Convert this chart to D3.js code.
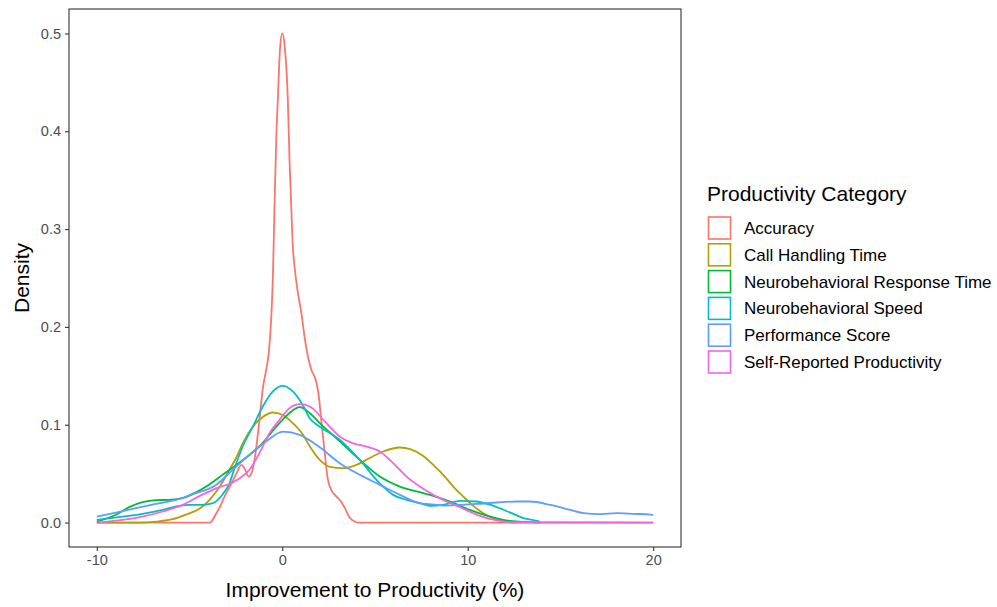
<!DOCTYPE html>
<html>
<head>
<meta charset="utf-8">
<script src="https://cdn.jsdelivr.net/npm/d3@7"></script>
<style>
  body { margin: 0; background: #fff; }
  text { font-family: "Liberation Sans", Arial, sans-serif; }
</style>
</head>
<body>
<svg id="chart" width="997" height="607"></svg>
<script>
// category names and colours (ggplot hue palette)
var categories = ["Accuracy", "Call Handling Time", "Neurobehavioral Response Time",
    "Neurobehavioral Speed", "Performance Score", "Self-Reported Productivity"];
var colors = ["#F8766D", "#B79F00", "#00BA38", "#00BFC4", "#619CFF", "#F564E3"];

var xTicks = [-10, 0, 10, 20];
var yTicks = [0, 0.1, 0.2, 0.3, 0.4, 0.5];

// density curves: [improvement %, density]
var accuracy = [[-10,0],[-3.9,0],[-3.6,0.008],[-3.39,0.015],[-3.1,0.027],[-2.85,0.036],[-2.5,0.049],
    [-2.2,0.059],[-2.0,0.054],[-1.82,0.047],[-1.62,0.053],[-1.42,0.074],[-1.23,0.105],[-1.05,0.137],
    [-0.85,0.158],[-0.72,0.175],[-0.6,0.207],[-0.5,0.255],[-0.42,0.323],[-0.32,0.395],[-0.24,0.432],
    [-0.12,0.485],[0,0.5],[0.14,0.485],[0.3,0.432],[0.39,0.371],[0.49,0.32],[0.57,0.282],[0.66,0.262],
    [0.84,0.235],[1.03,0.214],[1.2,0.19],[1.38,0.17],[1.57,0.156],[1.8,0.146],[1.95,0.132],[2.1,0.105],
    [2.28,0.073],[2.45,0.045],[2.65,0.033],[2.9,0.027],[3.15,0.022],[3.37,0.015],[3.6,0.006],[3.9,0.001],
    [4.1,0],[20,0]];

var callHandling = [[-10,0],[-7.7,0],[-6.8,0.001],[-5.9,0.0034],[-5.2,0.008],[-4.47,0.014],[-3.93,0.023],
    [-3.39,0.036],[-2.85,0.054],[-2.49,0.066],[-2.13,0.081],[-1.59,0.098],[-1.05,0.108],[-0.51,0.1125],
    [0.03,0.11],[0.57,0.1016],[1.11,0.09],[1.48,0.078],[2.02,0.064],[2.56,0.057],[3.28,0.0556],[4.0,0.059],
    [4.72,0.066],[5.44,0.0726],[6.34,0.0767],[6.9,0.075],[7.6,0.068],[8.14,0.059],[8.68,0.0488],
    [9.22,0.0368],[9.76,0.0266],[10.3,0.0171],[10.84,0.0096],[11.38,0.0045],[12.1,0.001],[12.6,0]];

var neuroResponse = [[-10,0.001],[-8.97,0.008],[-8.25,0.0157],[-7.54,0.0208],[-6.81,0.0229],[-6.09,0.0232],
    [-5.37,0.025],[-4.65,0.031],[-3.93,0.039],[-3.21,0.049],[-2.4,0.06],[-1.23,0.078],[-0.15,0.1016],
    [0.39,0.112],[0.94,0.118],[1.48,0.112],[2.02,0.1016],[3.1,0.083],[4.18,0.064],[5.26,0.047],
    [6.34,0.0368],[7.42,0.031],[7.96,0.0283],[9.04,0.0215],[10.12,0.013],[11.2,0.0061],[12.29,0.0017],
    [13.9,0]];

var neuroSpeed = [[-10,0.0027],[-8.61,0.0061],[-7.54,0.0089],[-6.45,0.013],[-5.55,0.0171],[-5.0,0.0181],
    [-4.29,0.0181],[-3.75,0.0198],[-3.21,0.029],[-2.85,0.04],[-2.6,0.054],[-2.13,0.078],[-1.59,0.098],
    [-1.05,0.1186],[-0.51,0.134],[0.03,0.1398],[0.57,0.134],[1.11,0.12],[1.5,0.106],[2.02,0.098],
    [3.1,0.0846],[4.18,0.064],[5.26,0.04],[5.98,0.0283],[6.7,0.0232],[7.42,0.0198],[7.96,0.0171],
    [8.68,0.018],[9.58,0.0222],[10.48,0.0215],[11.38,0.0171],[12.29,0.0102],[13.0,0.0045],[13.73,0.0017],
    [13.9,0.0008]];

var performance = [[-10,0.0061],[-8.97,0.0102],[-7.89,0.0147],[-6.81,0.019],[-5.73,0.0232],[-4.65,0.03],
    [-3.57,0.0385],[-2.67,0.054],[-1.77,0.0692],[-0.86,0.083],[0.03,0.093],[0.94,0.0897],[2.02,0.077],
    [3.1,0.0607],[4.18,0.0488],[5.26,0.0385],[6.34,0.0283],[7.42,0.0198],[7.96,0.0188],[8.68,0.0174],
    [9.58,0.0181],[10.48,0.019],[11.57,0.0205],[12.65,0.0215],[13.37,0.0215],[14.45,0.018],[15.53,0.013],
    [16.25,0.0096],[17.15,0.0086],[18.05,0.0096],[18.95,0.0089],[19.85,0.0082],[20,0.0075]];

var selfReported = [[-10,0],[-8.61,0.0027],[-7.54,0.0061],[-6.45,0.0113],[-5.37,0.0181],[-4.47,0.027],
    [-3.57,0.035],[-2.67,0.041],[-2.31,0.045],[-1.77,0.054],[-1.23,0.071],[-0.69,0.0914],[-0.15,0.105],
    [0.39,0.117],[0.94,0.121],[1.48,0.1186],[2.38,0.1016],[3.1,0.088],[3.82,0.081],[4.54,0.0777],
    [5.26,0.0726],[5.98,0.0607],[6.7,0.047],[7.42,0.0368],[8.14,0.0283],[8.86,0.0215],[9.58,0.0157],
    [10.3,0.0096],[11.03,0.0045],[11.75,0.0017],[12.3,0.0003],[20,0]];

var series = [accuracy, callHandling, neuroResponse, neuroSpeed, performance, selfReported];

var panel = {left: 69, right: 681, top: 9, bottom: 547};

var svg = d3.select("#chart");

var x = d3.scaleLinear().domain([-11.5, 21.5]).range([panel.left, panel.right]);
var y = d3.scaleLinear().domain([-0.025, 0.525]).range([panel.bottom, panel.top]);

var line = d3.line()
    .x(function (d) { return x(d[0]); })
    .y(function (d) { return y(d[1]); })
    .curve(d3.curveMonotoneX);

// density lines
svg.append("g")
    .selectAll("path")
    .data(series)
    .enter()
    .append("path")
    .attr("d", line)
    .style("fill", "none")
    .style("stroke", function (d, i) { return colors[i]; })
    .style("stroke-width", 1.8)
    .style("stroke-linejoin", "round");

// panel border
svg.append("rect")
    .attr("x", panel.left)
    .attr("y", panel.top)
    .attr("width", panel.right - panel.left)
    .attr("height", panel.bottom - panel.top)
    .style("fill", "none")
    .style("stroke", "#333333")
    .style("stroke-width", 1.1);

// axes (R prints a plain hyphen for negatives)
var xAxis = svg.append("g")
    .attr("transform", "translate(0," + panel.bottom + ")")
    .call(d3.axisBottom(x).tickValues(xTicks).tickSize(4).tickPadding(4)
        .tickFormat(function (d) { return String(d); }));

var yAxis = svg.append("g")
    .attr("transform", "translate(" + panel.left + ",0)")
    .call(d3.axisLeft(y).tickValues(yTicks).tickSize(4).tickPadding(4).tickFormat(d3.format(".1f")));

[xAxis, yAxis].forEach(function (g) {
    g.select(".domain").remove();
    g.selectAll(".tick line").style("stroke", "#333333").style("stroke-width", 1.1);
    g.selectAll(".tick text")
        .style("fill", "#4D4D4D")
        .style("font-size", "14.5px")
        .style("font-family", "Liberation Sans, Arial, sans-serif");
});

// axis titles
svg.append("text")
    .attr("x", (panel.left + panel.right) / 2)
    .attr("y", 597)
    .attr("text-anchor", "middle")
    .style("font-size", "21px")
    .text("Improvement to Productivity (%)");

svg.append("text")
    .attr("transform", "translate(29," + (panel.top + panel.bottom) / 2 + ") rotate(-90)")
    .attr("text-anchor", "middle")
    .style("font-size", "21px")
    .text("Density");

// legend
var legend = svg.append("g").attr("transform", "translate(707,0)");

legend.append("text")
    .attr("x", 0)
    .attr("y", 201)
    .style("font-size", "21px")
    .text("Productivity Category");

var rows = legend.selectAll("g.row")
    .data(categories)
    .enter()
    .append("g")
    .attr("class", "row")
    .attr("transform", function (d, i) { return "translate(0," + (228 + i * 26.8) + ")"; });

rows.append("rect")
    .attr("x", 1.5)
    .attr("y", -11)
    .attr("width", 22)
    .attr("height", 22)
    .style("fill", "#fff")
    .style("stroke", function (d, i) { return colors[i]; })
    .style("stroke-width", 1.6);

rows.append("text")
    .attr("x", 37)
    .attr("y", 6)
    .style("font-size", "17px")
    .text(function (d) { return d; });
</script>
</body>
</html>
